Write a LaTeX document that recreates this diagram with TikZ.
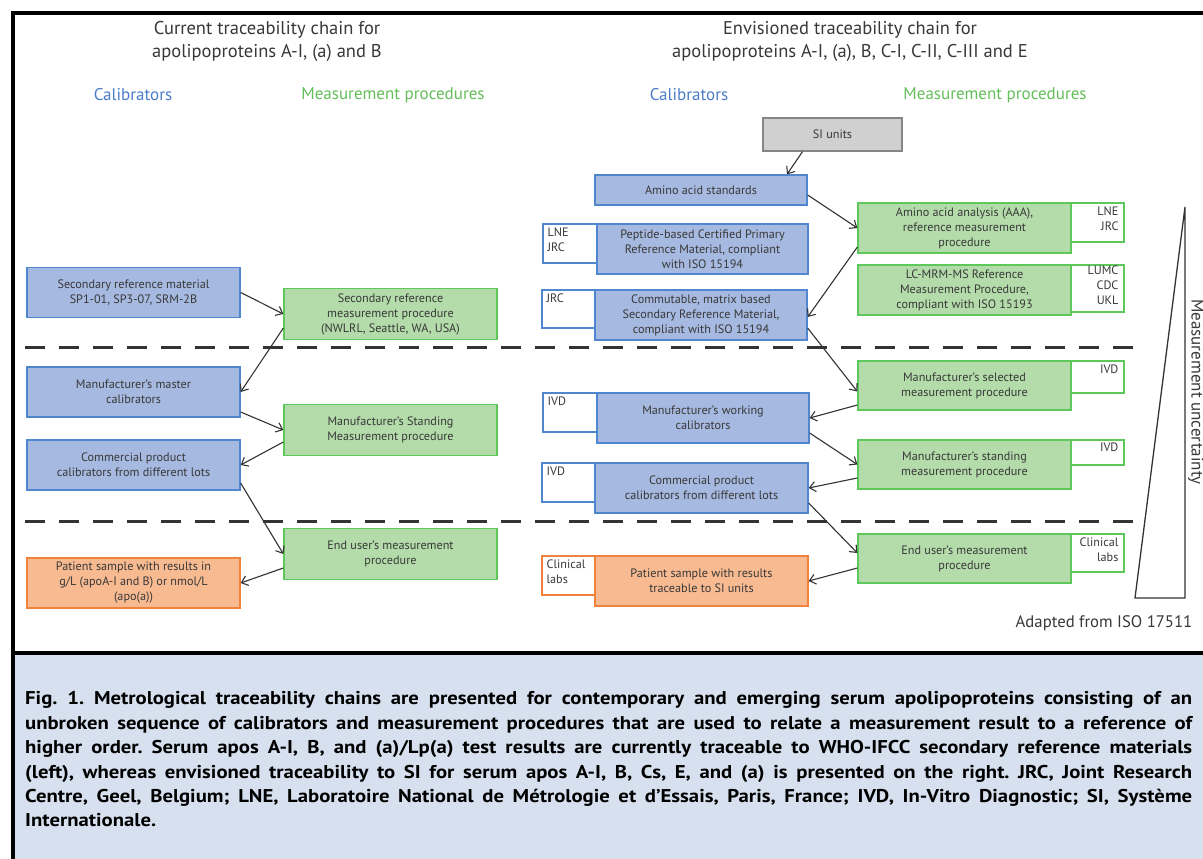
\documentclass[tikz,border=0pt]{standalone}
\usepackage{fontspec}
\setmainfont{PT Sans}
\newfontfamily\capfont{PT Sans}[FakeStretch=1.12]
\usetikzlibrary{arrows.meta,calc}
\definecolor{bfill}{HTML}{A6B9E0}
\definecolor{bdraw}{HTML}{4F86D0}
\definecolor{gfill}{HTML}{B4DCAA}
\definecolor{gdraw}{HTML}{5FC85A}
\definecolor{ofill}{HTML}{F8BA91}
\definecolor{odraw}{HTML}{F0823C}
\definecolor{sfill}{HTML}{D0D0D0}
\definecolor{sdraw}{HTML}{858585}
\definecolor{txt}{HTML}{383838}
\definecolor{capbg}{HTML}{D6E0EE}
\definecolor{calc}{HTML}{4A7CC8}
\definecolor{procc}{HTML}{64BE5A}
\definecolor{arrc}{HTML}{333333}
\newcommand{\boxfont}{\fontsize{12.2}{15}\selectfont}
\frenchspacing
\tikzset{
  base/.style={line width=1.3pt, inner sep=0pt, align=center, text=txt, font=\boxfont},
  calbox/.style={base, draw=bdraw, fill=bfill, minimum width=213pt, minimum height=50pt},
  procbox/.style={base, draw=gdraw, fill=gfill, minimum width=213pt, minimum height=50pt},
  patbox/.style={base, draw=odraw, fill=ofill, minimum width=213pt, minimum height=50pt},
  sibox/.style={base, draw=sdraw, fill=sfill, minimum width=139pt, minimum height=33pt},
  lblbox/.style={line width=1.3pt, fill=white, inner sep=0pt, minimum width=53pt},
  lbltxt/.style={font=\boxfont, text=txt, inner sep=0pt},
  title/.style={font=\fontsize{18.5}{23}\selectfont, text=txt, align=center},
  colhead/.style={font=\fontsize{17}{20}\selectfont},
  arr/.style={draw=arrc, line width=1.1pt, -{Straight Barb[length=6pt,width=10pt]}},
  sepline/.style={draw=arrc, line width=3pt, dash pattern=on 20pt off 14pt},
}
\begin{document}
\begin{tikzpicture}[x=1pt,y=-1pt]
\useasboundingbox (0,0) rectangle (1203,859);
\fill[white] (0,0) rectangle (1203,859);
% frame and caption area
\fill[capbg] (13,653) rectangle (1203,859);
\draw[line width=4pt] (13,859) -- (13,13) -- (1203,13);
\draw[line width=4pt] (13,653) -- (1203,653);

% titles
\node[title] (tl) at (267,41) {Current traceability chain for\\apolipoproteins A-I, (a) and B};
\node[title] (tr) at (850,41) {Envisioned traceability chain for\\apolipoproteins A-I, (a), B, C-I, C-II, C-III and E};
\node[colhead, text=calc] (cl) at (133,95) {Calibrators};
\node[colhead, text=procc] (pl) at (393,95) {Measurement procedures};
\node[colhead, text=calc] (cr) at (689,95) {Calibrators};
\node[colhead, text=procc] (pr) at (995,95) {Measurement procedures};

% separators
\draw[sepline] (25,347) -- (1135,347);
\draw[sepline] (25,521) -- (1135,521);

% left chain
\node[calbox] (srm) at (133.5,292.5) {Secondary reference material\\SP1-01, SP3-07, SRM-2B};
\node[procbox, minimum height=51pt] (srmp) at (390.5,314) {Secondary reference\\measurement procedure\\(NWLRL, Seattle, WA, USA)};
\node[calbox] (mmc) at (133.5,392) {Manufacturer’s master\\calibrators};
\node[procbox, minimum height=51pt] (msp) at (390.5,430) {Manufacturer’s Standing\\Measurement procedure};
\node[calbox] (cpc) at (133.5,465) {Commercial product\\calibrators from different lots};
\node[procbox, minimum height=51pt] (eup) at (390.5,554) {End user’s measurement\\procedure};
\node[patbox] (pat) at (133.5,583) {Patient sample with results in\\g/L (apoA-I and B) or nmol/L\\(apo(a))};

\draw[arr] (srm.east) -- (srmp.west);
\draw[arr] ([yshift=-14pt]srmp.west) -- (mmc.east);
\draw[arr] ([yshift=-20pt]mmc.east) -- (msp.west);
\draw[arr] ([yshift=-12pt]msp.west) -- (cpc.east);
\draw[arr] ([yshift=-18pt]cpc.east) -- (eup.west);
\draw[arr] ([yshift=-14pt]eup.west) -- (pat.east);

% right chain: label boxes (behind)
\node[lblbox, draw=bdraw, minimum width=54pt, minimum height=39pt] (l1) at (570,243.5) {};
\node[lblbox, draw=bdraw, minimum height=38pt] (l2) at (568.5,309) {};
\node[lblbox, draw=bdraw, minimum width=54pt, minimum height=39pt] (l3) at (570,412.5) {};
\node[lblbox, draw=bdraw, minimum height=39pt] (l4) at (568.5,482.5) {};
\node[lblbox, draw=odraw, minimum height=39pt] (l5) at (568.5,575.5) {};
\node[lblbox, draw=gdraw, minimum height=39pt] (r1) at (1097.5,222.5) {};
\node[lblbox, draw=gdraw, minimum height=47pt] (r2) at (1097.5,288.5) {};
\node[lblbox, draw=gdraw, minimum height=32pt] (r3) at (1097.5,377) {};
\node[lblbox, draw=gdraw, minimum height=25pt] (r4) at (1097.5,452.5) {};
\node[lblbox, draw=gdraw, minimum height=38pt] (r5) at (1097.5,553) {};

\node[lbltxt, align=left, anchor=north west] (l1t) at ([xshift=5pt,yshift=-4pt]l1.north west) {LNE\\JRC};
\node[lbltxt, align=left, anchor=north west] (l2t) at ([xshift=5pt,yshift=-4pt]l2.north west) {JRC};
\node[lbltxt, align=left, anchor=north west] (l3t) at ([xshift=5pt,yshift=-4pt]l3.north west) {IVD};
\node[lbltxt, align=left, anchor=north west] (l4t) at ([xshift=5pt,yshift=-4pt]l4.north west) {IVD};
\node[lbltxt, align=left, anchor=north west] (l5t) at ([xshift=5pt,yshift=-4pt]l5.north west) {Clinical\\labs};
\node[lbltxt, align=right, anchor=north east] (r1t) at ([xshift=-6pt,yshift=-4pt]r1.north east) {LNE\\JRC};
\node[lbltxt, align=right, anchor=north east] (r2t) at ([xshift=-6pt,yshift=-1pt]r2.north east) {LUMC\\CDC\\UKL};
\node[lbltxt, align=right, anchor=north east] (r3t) at ([xshift=-6pt,yshift=-4pt]r3.north east) {IVD};
\node[lbltxt, align=right, anchor=north east] (r4t) at ([xshift=-6pt,yshift=-3pt]r4.north east) {IVD};
\node[lbltxt, align=right, anchor=north east] (r5t) at ([xshift=-6pt,yshift=-4pt]r5.north east) {Clinical\\labs};

% right chain: main boxes
\node[sibox] (si) at (832.5,134.5) {SI units};
\node[calbox, minimum width=212pt, minimum height=30pt] (aas) at (701,190) {Amino acid standards};
\node[calbox, minimum width=211pt] (pep) at (702.5,249) {Peptide-based Certified Primary\\Reference Material, compliant\\with ISO 15194};
\node[calbox, minimum width=212pt] (cmt) at (701,315) {Commutable, matrix based\\Secondary Reference Material,\\compliant with ISO 15194};
\node[calbox, minimum width=212pt] (wrk) at (703,418) {Manufacturer’s working\\calibrators};
\node[calbox] (cpr) at (701.5,488) {Commercial product\\calibrators from different lots};
\node[patbox] (patr) at (701.5,581) {Patient sample with results\\traceable to SI units};

\node[procbox] (aaa) at (964.5,228) {Amino acid analysis (AAA),\\reference measurement\\procedure};
\node[procbox] (lc) at (964.5,290) {LC-MRM-MS Reference\\Measurement Procedure,\\compliant with ISO 15193};
\node[procbox, minimum height=49pt] (sel) at (964.5,385.5) {Manufacturer’s selected\\measurement procedure};
\node[procbox, minimum height=49pt] (std) at (964.5,464.5) {Manufacturer’s standing\\measurement procedure};
\node[procbox, minimum height=49pt] (eur) at (964.5,558.5) {End user’s measurement\\procedure};

\draw[arr] ([xshift=-30pt]si.south) -- ([xshift=86pt]aas.north);
\draw[arr] ([yshift=-5pt]aas.east) -- (aaa.west);
\draw[arr] ([yshift=-19pt]aaa.west) -- ([yshift=-2pt]cmt.east);
\draw[arr] ([yshift=-13pt]cmt.east) -- ([yshift=-6pt]sel.west);
\draw[arr] ([yshift=-19.5pt]sel.west) -- (wrk.east);
\draw[arr] ([yshift=-15pt]wrk.east) -- (std.west);
\draw[arr] ([yshift=-13.5pt]std.west) -- (cpr.east);
\draw[arr] ([yshift=-15pt]cpr.east) -- ([yshift=5.5pt]eur.west);
\draw[arr] ([yshift=-9.5pt]eur.west) -- (patr.east);

% uncertainty triangle
\draw[draw=arrc, line width=1.3pt] (1185,207) -- (1185,598) -- (1135,598) -- cycle;
\node[font=\fontsize{17}{20}\selectfont, text=txt, rotate=-90] (mu) at (1196,392) {Measurement uncertainty};
\node[font=\fontsize{16.7}{20}\selectfont, text=txt] (adp) at (1104,623) {Adapted from ISO 17511};

% caption
\node[anchor=north west, text width=1167pt, align=justify, inner sep=0pt, text=black,
      font=\capfont\bfseries\fontsize{18.5}{24.4}\selectfont] (cap) at (25,691.5)
{Fig. 1. Metrological traceability chains are presented for contemporary and emerging serum apolipoproteins consisting of an\linebreak
unbroken sequence of calibrators and measurement procedures that are used to relate a measurement result to a reference of\linebreak
higher order. Serum apos A-I, B, and (a)/Lp(a) test results are currently traceable to WHO-IFCC secondary reference materials\linebreak
(left), whereas envisioned traceability to SI for serum apos A-I, B, Cs, E, and (a) is presented on the right. JRC, Joint Research\linebreak
Centre, Geel, Belgium; LNE, Laboratoire National de Métrologie et d’Essais, Paris, France; IVD, In-Vitro Diagnostic; SI, Système\linebreak
Internationale.};
\end{tikzpicture}
\end{document}
